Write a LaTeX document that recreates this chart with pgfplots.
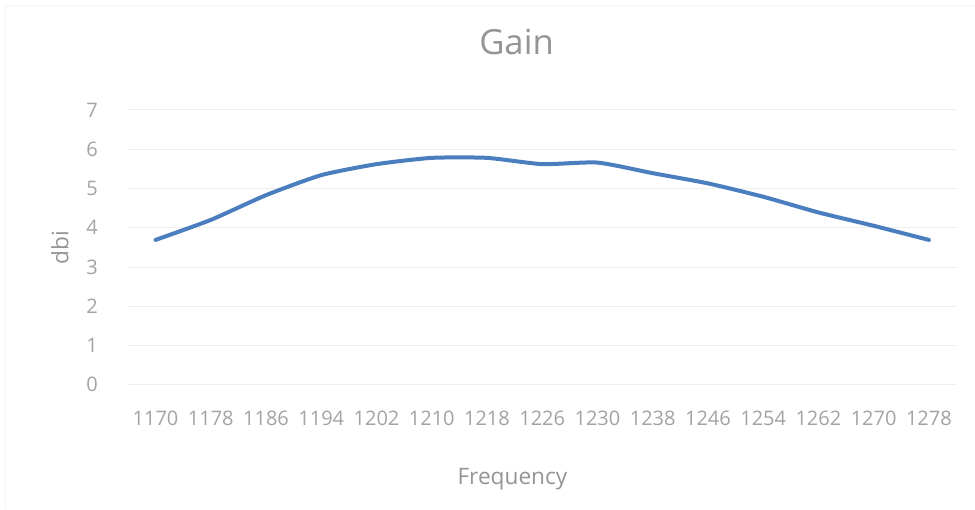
\documentclass[border=0pt]{standalone}
\usepackage{pgfplots}
\pgfplotsset{compat=1.18}
\usepackage{fontspec}
\setmainfont{Open Sans}
\definecolor{linec}{HTML}{4A7EBF}
\definecolor{txt}{HTML}{959595}
\definecolor{tick}{HTML}{A3A3A3}
\definecolor{gridc}{HTML}{EFEFEF}
\begin{document}
\begin{tikzpicture}
% canvas 975 x 509 px, 1px = 0.75pt
\fill[white] (0pt,0pt) rectangle (731.25pt,381.75pt);
\draw[gray!8, line width=0.75pt] (4.5pt,0pt) -- (4.5pt,377.25pt) -- (731.25pt,377.25pt);
\begin{axis}[
  at={(96pt,93pt)}, anchor=south west,
  scale only axis,
  width=621.75pt, height=206.25pt,
  xmin=-0.5, xmax=14.5, ymin=0, ymax=7,
  xtick={0,...,14},
  xticklabels={1170,1178,1186,1194,1202,1210,1218,1226,1230,1238,1246,1254,1262,1270,1278},
  ytick={0,...,7},
  axis line style={draw=none},
  major tick length=0pt,
  ymajorgrids, grid style={gridc, line width=0.75pt},
  /pgf/number format/assume math mode=true,
  tick label style={font=\fontsize{15}{17}\selectfont, text=tick},
  xticklabel style={yshift=-16pt},
  yticklabel style={xshift=-19pt},
  title={Gain},
  title style={font=\fontsize{26}{29}\selectfont, text=txt, at={(rel axis cs:0.469,1.218)}, anchor=center},
  xlabel={Frequency},
  xlabel style={font=\fontsize{17}{20}\selectfont, text=txt, at={(rel axis cs:0.464,-0.345)}, anchor=center},
  ylabel={dbi},
  ylabel style={font=\fontsize{17}{20}\selectfont, text=txt, at={(rel axis cs:-0.082,0.5)}, anchor=center, rotate=0},
  clip=false,
]
\addplot[linec, line width=3pt, smooth, tension=0.35, line cap=round] coordinates {
(0,3.69) (1,4.20) (2,4.83) (3,5.34) (4,5.62) (5,5.78) (6,5.78) (7,5.62)
(8,5.66) (9,5.39) (10,5.13) (11,4.79) (12,4.39) (13,4.05) (14,3.69)
};
\end{axis}
\end{tikzpicture}
\end{document}
